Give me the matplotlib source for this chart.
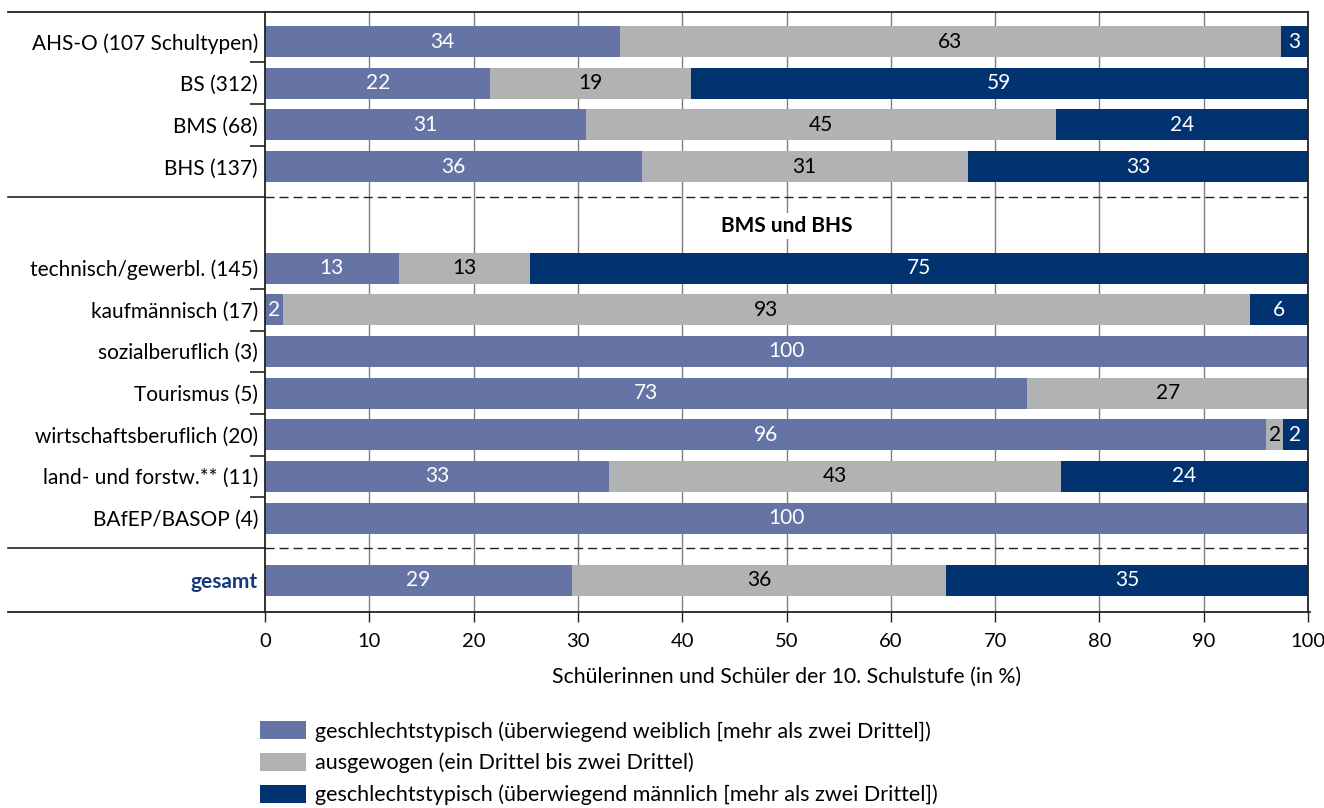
import matplotlib.pyplot as plt
from matplotlib.patches import Patch

plt.rcParams['font.family'] = ['Lato', 'DejaVu Sans']

# rows, top to bottom (shares in %)
rows_top = ["AHS-O (107 Schultypen)", "BS (312)", "BMS (68)", "BHS (137)"]
rows_mid = ["technisch/gewerbl. (145)", "kaufmännisch (17)", "sozialberuflich (3)",
            "Tourismus (5)", "wirtschaftsberuflich (20)", "land- und forstw.** (11)",
            "BAfEP/BASOP (4)"]
rows_total = ["gesamt"]

weiblich = [34.0, 21.6, 30.8, 36.1, 12.8, 1.7, 100.0, 73.1, 96.0, 33.0, 100.0, 29.4]
ausgewogen = [63.4, 19.2, 45.0, 31.3, 12.6, 92.7, 0.0, 26.9, 1.6, 43.3, 0.0, 35.9]
maennlich = [2.6, 59.2, 24.2, 32.6, 74.6, 5.6, 0.0, 0.0, 2.4, 23.7, 0.0, 34.7]

legend_labels = ["geschlechtstypisch (überwiegend weiblich [mehr als zwei Drittel])",
                 "ausgewogen (ein Drittel bis zwei Drittel)",
                 "geschlechtstypisch (überwiegend männlich [mehr als zwei Drittel])"]

c_w = '#6673A5'
c_a = '#B1B2B4'
c_m = '#00336F'
navy_text = '#17397A'
fs = 15

W, H = 1324, 808
fig = plt.figure(figsize=(W / 100, H / 100), dpi=100)
# axes in pixel layout: x 265..1308, y 12..612
ax = fig.add_axes([265 / W, 1 - 612 / H, 1043 / W, 600 / H])
ax.set_xlim(0, 100)
ax.set_ylim(612, 12)

# y positions (pixel-like units)
step = 41.67
y_top = [41.5 + step * i for i in range(len(rows_top))]
y_mid = [268 + step * i for i in range(len(rows_mid))]
y_tot = [580.5]
ys = y_top + y_mid + y_tot
labels = rows_top + rows_mid + rows_total

bh = 31
left = [0.0] * len(ys)
for vals, col, tcol in [(weiblich, c_w, 'white'), (ausgewogen, c_a, 'black'), (maennlich, c_m, 'white')]:
    ax.barh(ys, vals, left=left, height=bh, color=col, zorder=2)
    for y, v, l in zip(ys, vals, left):
        if v > 0:
            ax.text(l + v / 2, y, f"{round(v)}", ha='center', va='center',
                    color=tcol, fontsize=fs, zorder=3)
    left = [l + v for l, v in zip(left, vals)]

# grid
for gx in range(10, 100, 10):
    ax.axvline(gx, color='#7f7f7f', lw=1.0, zorder=1)

# separators: dashed in plot, solid in label area
for sy in [197, 548]:
    ax.axhline(sy, color='#222222', lw=1.0, dashes=(6.5, 3.6), zorder=1.5)
    fig.add_artist(plt.Line2D([8 / W, 265 / W], [1 - sy / H] * 2, color='#222222', lw=1.2))
for sy in [11.5, 612]:
    x1 = 1310 if sy > 600 else 1308
    fig.add_artist(plt.Line2D([8 / W, x1 / W], [1 - sy / H] * 2, color='#222222', lw=1.3))

ax.text(50, 226, "BMS und BHS", ha='center', va='center', fontsize=fs,
        fontweight='bold', zorder=3,
        bbox=dict(facecolor='white', edgecolor='none', pad=2))

# spines
for s in ['top', 'bottom']:
    ax.spines[s].set_visible(False)
for s in ['left', 'right']:
    ax.spines[s].set_color('#222222')
    ax.spines[s].set_linewidth(1.3)

ax.set_yticks(ys)
ax.set_yticklabels(labels, fontsize=fs)
ax.tick_params(axis='y', length=0, pad=5)
tl = ax.get_yticklabels()[-1]
tl.set_color(navy_text)
tl.set_fontweight('bold')

bounds = [(a + b) / 2 for a, b in zip(y_top[:-1], y_top[1:])] + \
         [(a + b) / 2 for a, b in zip(y_mid[:-1], y_mid[1:])]
ax.set_yticks(bounds, minor=True)
ax.tick_params(axis='y', which='minor', length=11, width=1.2, color='#222222', direction='out')

ax.set_xticks(range(0, 101, 10))
ax.tick_params(axis='x', length=7, width=1.0, color='#222222', labelsize=fs - 0.5, pad=8)
ax.set_xlabel("Schülerinnen und Schüler der 10. Schulstufe (in %)", fontsize=fs + 0.3, labelpad=12)

handles = [Patch(facecolor=c, edgecolor='none') for c in [c_w, c_a, c_m]]
fig.legend(handles, legend_labels, loc='upper left', bbox_to_anchor=(260 / W, 1 - 721 / H),
           frameon=False, fontsize=fs + 0.5, handlelength=2.15, handleheight=0.93,
           handletextpad=0.42, labelspacing=0.52, borderpad=0, borderaxespad=0)

fig.savefig('out.png', dpi=100)
